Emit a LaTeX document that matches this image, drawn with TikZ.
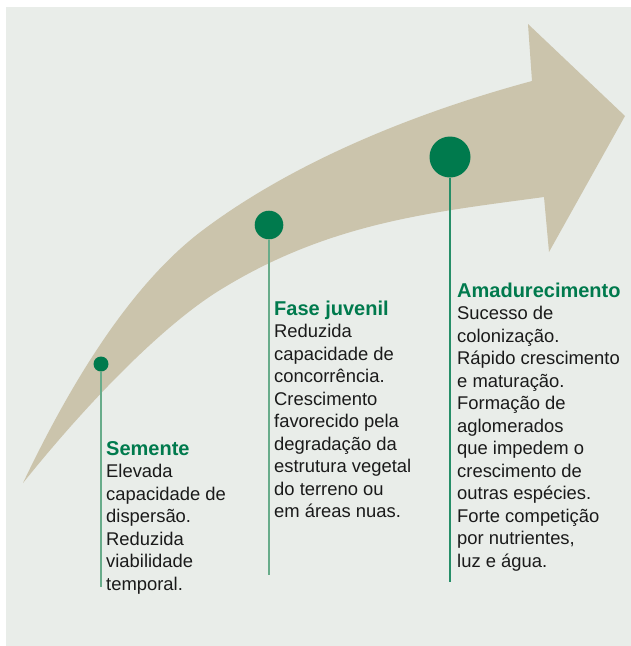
\documentclass[tikz,border=0pt]{standalone}
\usepackage{fontspec}
\setmainfont{Liberation Sans}
\definecolor{bg}{RGB}{233,237,233}
\definecolor{beige}{RGB}{203,196,172}
\definecolor{dgreen}{RGB}{0,122,77}
\definecolor{lgreen}{RGB}{104,172,138}
\definecolor{txt}{RGB}{26,26,26}
\newcommand\stagetitle[1]{{\fontsize{20}{22.5}\selectfont\bfseries\color{dgreen}#1}}
\tikzset{
  txtblock/.style={anchor=base west, inner sep=0pt, text=txt, font=\fontsize{18.4}{22.5}\selectfont},
  dot/.style={circle, fill=dgreen, inner sep=0pt},
  stem/.style={line width=1.3pt}
}
\begin{document}
\begin{tikzpicture}[x=1pt,y=-1pt]
\useasboundingbox (0,0) rectangle (631,646);
\fill[bg] (6,7) rectangle (631,646);
\fill[beige] (23,483) .. controls (83,357) and (143,275) .. (203,230)
  .. controls (303,155) and (432,108) .. (532,81)
  -- (528,24) -- (625,116) -- (549,252) -- (544,197)
  .. controls (434,212) and (330,222) .. (220,290)
  .. controls (160,327) and (83,408) .. (23,483) -- cycle;

\node[dot, minimum size=15pt] (d1) at (101,364) {};
\node[dot, minimum size=28.6pt] (d2) at (269,225) {};
\node[dot, minimum size=41pt] (d3) at (450,157) {};
\coordinate (e1) at (101,587);
\coordinate (e2) at (269,575);
\coordinate (e3) at (450,582);
\draw[stem, lgreen] (d1.south) -- (e1);
\draw[stem, lgreen] (d2.south) -- (e2);
\draw[stem, dgreen!85!white] (d3.south) -- (e3);

\node[txtblock] (t1) at (106,455) {\begin{tabular}[t]{@{}l@{}}\stagetitle{Semente}\\Elevada\\capacidade de\\dispersão.\\Reduzida\\viabilidade\\temporal.\end{tabular}};
\node[txtblock] (t2) at (274,315) {\begin{tabular}[t]{@{}l@{}}\stagetitle{Fase juvenil}\\Reduzida\\capacidade de\\concorrência.\\Crescimento\\favorecido pela\\degradação da\\estrutura vegetal\\do terreno ou\\em áreas nuas.\end{tabular}};
\node[txtblock] (t3) at (457,297) {\begin{tabular}[t]{@{}l@{}}\stagetitle{Amadurecimento}\\Sucesso de\\colonização.\\Rápido crescimento\\e maturação.\\Formação de\\aglomerados\\que impedem o\\crescimento de\\outras espécies.\\Forte competição\\por nutrientes,\\luz e água.\end{tabular}};
\end{tikzpicture}
\end{document}
